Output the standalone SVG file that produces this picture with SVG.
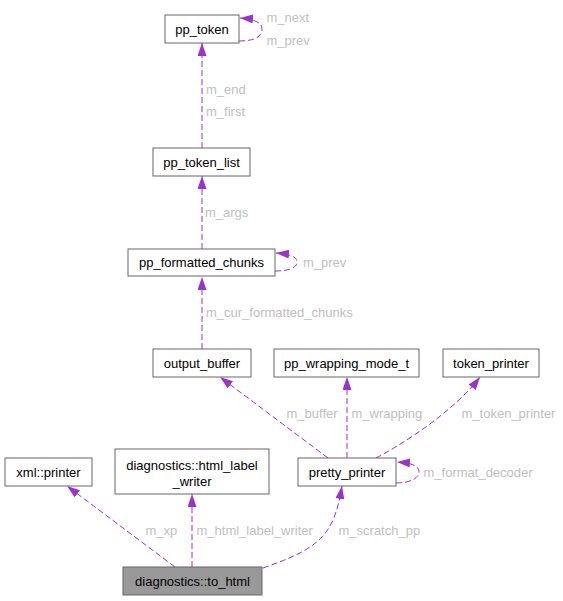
<svg xmlns="http://www.w3.org/2000/svg" width="563" height="601" viewBox="0 0 563 601">
<style>
.node rect{fill:#ffffff;stroke:#666666;stroke-width:1}
.node text{font-family:"Liberation Sans",Arial,sans-serif;font-size:13px;fill:#000000;text-anchor:middle}
#n_to_html rect{fill:#999999}
.edge path{fill:none;stroke:#9a32cd;stroke-width:1;stroke-dasharray:6,3}
.lbl{font-family:"Liberation Sans",Arial,sans-serif;font-size:13px;fill:#c0c0c0}
</style>
<defs>
<marker id="ah" viewBox="0 0 13 9" refX="13" refY="4.5" markerUnits="userSpaceOnUse" markerWidth="13" markerHeight="9" orient="auto">
<path d="M0,0 L13,4.5 L0,9 z" fill="#9a32cd" stroke="none"/>
</marker>
</defs>
<rect width="563" height="601" fill="#ffffff"/>
<g id="edges" class="edge">
<path d="M202,148 L202,43" marker-end="url(#ah)"/>
<path d="M239,41 C252,41 262,38 262,29 C262,22 253,19 240,18" marker-end="url(#ah)"/>
<path d="M202,249 L202,176" marker-end="url(#ah)"/>
<path d="M275,271 C288,271 297,268 297,262 C297,256 288,254 276,253" marker-end="url(#ah)"/>
<path d="M202,349 L202,277" marker-end="url(#ah)"/>
<path d="M328,458 L220,377" marker-end="url(#ah)"/>
<path d="M347,458 L347,377" marker-end="url(#ah)"/>
<path d="M376,458 C405,443 455,410 480,377" marker-end="url(#ah)"/>
<path d="M396,483 C410,483 419,478 419,472 C419,465 410,463 397,462" marker-end="url(#ah)"/>
<path d="M175,567 L67,486" marker-end="url(#ah)"/>
<path d="M192,567 L192,494" marker-end="url(#ah)"/>
<path d="M263,568 C300,555 322,545 333,520 C338,508 340,498 342,486" marker-end="url(#ah)"/>
<text class="lbl" x="206" y="93.5">m_end</text>
<text class="lbl" x="206" y="116">m_first</text>
<text class="lbl" x="266.5" y="22">m_next</text>
<text class="lbl" x="266.5" y="44.5">m_prev</text>
<text class="lbl" x="205" y="216.5">m_args</text>
<text class="lbl" x="303" y="267">m_prev</text>
<text class="lbl" x="206" y="317">m_cur_formatted_chunks</text>
<text class="lbl" x="286.5" y="418">m_buffer</text>
<text class="lbl" x="351.5" y="418">m_wrapping</text>
<text class="lbl" x="461.5" y="418">m_token_printer</text>
<text class="lbl" x="423.5" y="477">m_format_decoder</text>
<text class="lbl" x="145.5" y="535">m_xp</text>
<text class="lbl" x="196.5" y="535">m_html_label_writer</text>
<text class="lbl" x="338.5" y="535">m_scratch_pp</text>
</g>
<g id="n_pp_token" class="node"><rect x="165" y="15" width="74" height="28"/><text x="202" y="33.5">pp_token</text></g>
<g id="n_pp_token_list" class="node"><rect x="153" y="148" width="97" height="28"/><text x="201.5" y="166.5">pp_token_list</text></g>
<g id="n_pp_formatted_chunks" class="node"><rect x="128" y="249" width="147" height="27"/><text x="201.5" y="267">pp_formatted_chunks</text></g>
<g id="n_output_buffer" class="node"><rect x="153" y="349" width="98" height="28"/><text x="202" y="367.5">output_buffer</text></g>
<g id="n_pp_wrapping_mode_t" class="node"><rect x="274" y="349" width="145" height="28"/><text x="346.5" y="367.5">pp_wrapping_mode_t</text></g>
<g id="n_token_printer" class="node"><rect x="443" y="349" width="96" height="28"/><text x="491" y="367.5">token_printer</text></g>
<g id="n_pretty_printer" class="node"><rect x="298" y="458" width="98" height="28"/><text x="347" y="476.5">pretty_printer</text></g>
<g id="n_xml_printer" class="node"><rect x="5" y="458" width="87" height="28"/><text x="48.5" y="476.5">xml::printer</text></g>
<g id="n_html_label_writer" class="node"><rect x="115" y="449" width="154" height="45"/><text x="192" y="469.5">diagnostics::html_label</text><text x="192" y="485.5">_writer</text></g>
<g id="n_to_html" class="node"><rect x="123" y="567" width="139" height="28"/><text x="192.5" y="585.5">diagnostics::to_html</text></g>
</svg>
